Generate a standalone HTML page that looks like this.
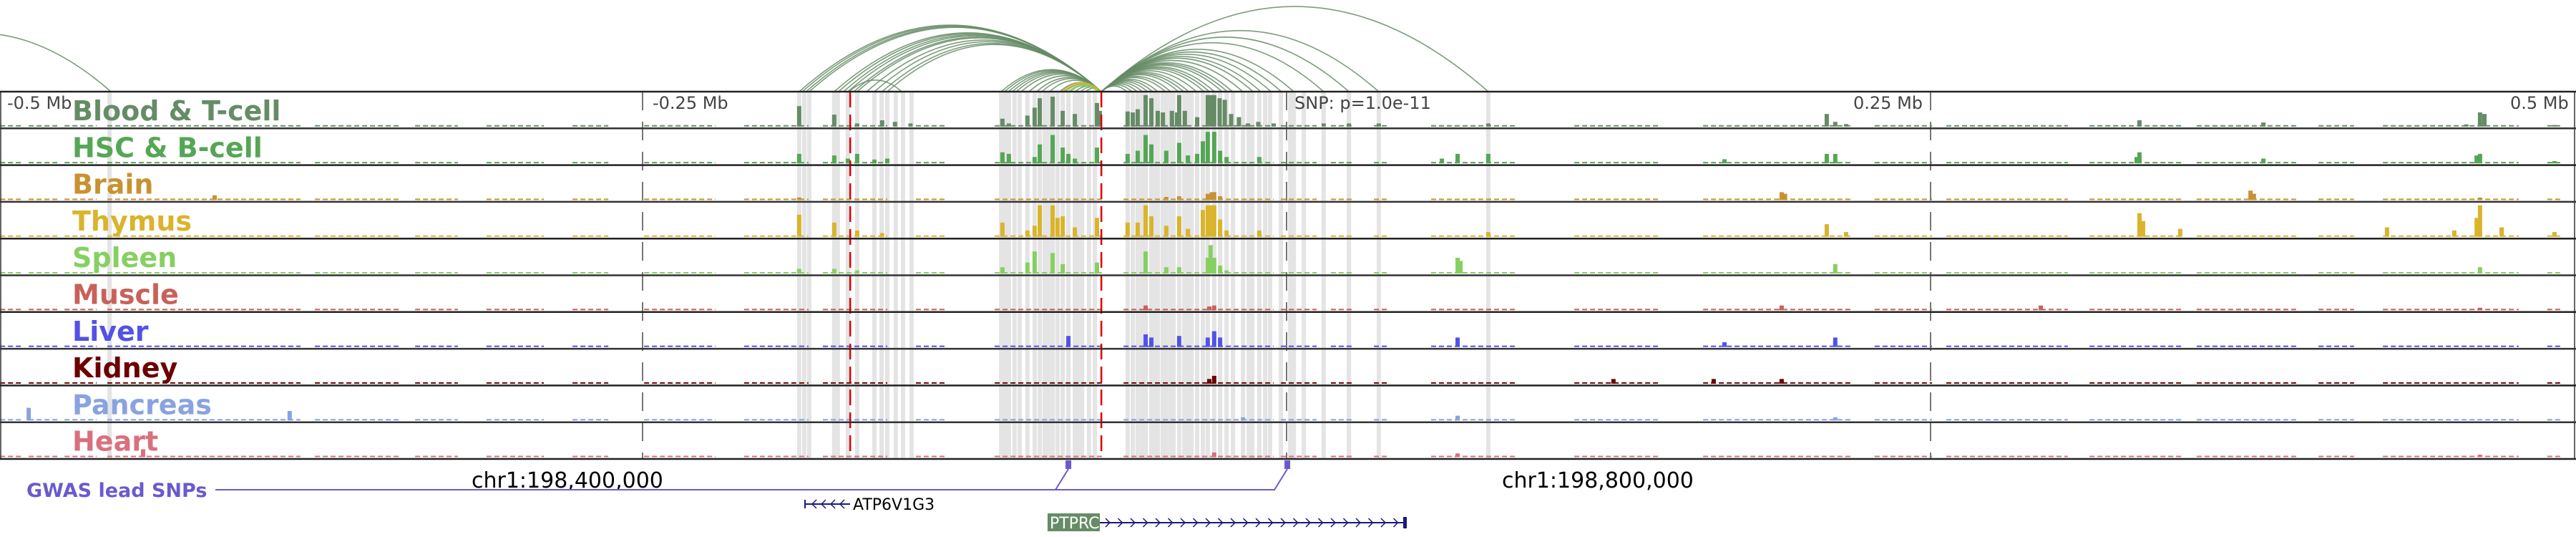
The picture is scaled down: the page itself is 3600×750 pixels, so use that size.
<!DOCTYPE html>
<html><head><meta charset="utf-8">
<style>
html,body{margin:0;padding:0;background:#fff;}
svg{display:block;}
text{font-family:"DejaVu Sans","Liberation Sans",sans-serif;}
</style></head>
<body>
<svg id="chart" width="3600" height="750" viewBox="0 0 3600 750" xmlns="http://www.w3.org/2000/svg">
<g id="bands"></g>
<g id="arcs"></g>
<g id="bars"></g>
<g id="guides"></g>
<g id="frame"></g>
<g id="labels"></g>
<g id="bottom">
  <text x="37" y="694" font-size="27" font-weight="bold" fill="#6a5acd">GWAS lead SNPs</text>
  <text x="659" y="681" font-size="30" fill="#000">chr1:198,400,000</text>
  <text x="2099" y="681" font-size="30" fill="#000">chr1:198,800,000</text>
</g>
</svg>
<script>
const NS="http://www.w3.org/2000/svg";
// ---- data ----
const trackNames=["Blood & T-cell","HSC & B-cell","Brain","Thymus","Spleen","Muscle","Liver","Kidney","Pancreas","Heart"];
const trackColors=["#668c66","#55a655","#c89232","#d9b42c","#86d062","#c8615a","#5252e8","#6b0000","#89a3e0","#d9707f"];
const tickKb=[-500,-250,0,250,500];
const tickLabels=["-0.5 Mb","-0.25 Mb","SNP: p=1.0e-11","0.25 Mb","0.5 Mb"];
const redLinesKb=[-169.4,-71.9];
const snpKb=[-84.7,0.3];
const arcAnchorKb=-71.9;
const arcEndsKb=[-189.2,-188,-186.5,-185.3,-175.6,-174,-172,-170.3,-168,-166.7,-163,-160,-157,-155,
 -110.8,-109.5,-108,-106.5,-105,-103,-100,-97,-95,-92,-88,-86,-84,-82,-80,-78,
 -62,-60,-58,-56,-54,-52,-50,-47,-45,-42,-40,-38,-35,-32,-30,-28,-25,-23,-21,-17,-13,-10,-6,-2,2.8,14.4,24.2,35.8,78.3];
const extraArcs=[[-560,-456.4,"#668c66"],[-169.8,-149.4,"#668c66"],[-86.9,-72,"#d9b42c"],[-84.5,-73,"#86d062"]];
const bandKb=[-456.9,-189.2,-187.2,-185.3,-175.6,-174.2,-170.3,-166.7,-160,-157.2,-155,-151.7,-148.9,-145.6,
 -110.8,-109.2,-107.8,-105.6,-103.6,-100.6,-97.8,-95.8,-93.9,-92.5,-90.8,-88.9,-86.9,-84.7,-82.2,-80.6,-79.4,-76.7,-74.4,
 -61.7,-59.7,-57.8,-56.1,-54.7,-52.5,-51.1,-50,-48.1,-46.7,-45,-43.9,-41.7,-39.7,-38.3,-36.9,-34.7,-32.5,-30.6,-28.1,-25.8,-23.3,-20.8,
 -16.9,-14.7,-13.3,-10.6,-8.3,-6.4,-2.2,1.4,2.8,6.7,14.4,24.2,35.8,78.3];
const lowRuns=[[-499.4,-491.1],[-488.3,-477.2],[-474.4,-461.9],[-457.8,-382.8],[-377.2,-343.9],[-338.3,-321.7],[-310.6,-288.3],[-277.2,-263.3],
 [-249.4,-221.7],[-210.6,-185.6],[-180,-155],[-143.9,-132.8],[-113.3,-71.7],[-63.3,-5],[-2.2,11.7],[17.2,25.6],[33.9,39.4],[56.1,89.4],
 [111.7,145],[161.7,189.4],[189.4,219.4],[228.3,250.6],[256.1,303.3],[311.7,347.8],[353.3,392.2],[400.6,414.4],[425.6,478.3],[489.4,495]];
const peaksBlood=[[-189.2,.65],[-175.6,.38],[-166.7,.1],[-157,.2],[-152,.15],[-146,.1],[-110.3,.25],[-107.8,.1],[-100.6,.35],[-97.8,.6],[-95.8,.9],[-90.8,.95],[-86.9,.5],[-82.2,.4],[-73.6,.75],[-72.5,.5],
 [-61.7,.48],[-59.7,.45],[-57.8,.55],[-54.7,1],[-52.5,.9],[-50,.5],[-48,.45],[-44.5,.5],[-42.5,.45],[-41.7,1],[-39.5,.5],[-34.7,.3],[-30.6,1],[-29,1],[-28.1,1],[-26,.9],[-24,.85],[-21.5,.4],[-18.5,.3],[-15,.1],[-11,.15],[-5,.1],[14.4,.1],[24.2,.1],[35.8,.1],[78.3,.1],
 [209.7,.4],[213,.15],[217.2,.08],[331.1,.2],[379.2,.13],[458,.07],[463.3,.45],[465,.4],[492.2,.05]];
const peaksHsc=[[-189.2,.3],[-175.6,.25],[-170.3,.15],[-166.7,.3],[-160,.12],[-155,.15],[-110.3,.35],[-107.8,.3],[-97.8,.2],[-95.8,.6],[-90.8,.9],[-86.9,.5],[-84.7,.3],[-82.2,.15],[-73.6,.5],
 [-61.7,.3],[-57.8,.4],[-54.7,.9],[-52.5,.6],[-46.7,.4],[-41.7,.65],[-38.3,.25],[-34.7,.3],[-32.5,.7],[-30.6,1],[-28.1,1],[-25.8,.4],[-23.3,.2],[-10.6,.2],
 [60.3,.15],[66.4,.3],[78.3,.3],[170,.13],[209.7,.3],[213,.3],[330,.2],[331.1,.35],[379.2,.15],[462,.25],[463.3,.3],[492.2,.07]];
const peaksBrain=[[-416.1,.15],[-189.2,.08],[-46.7,.1],[-41.7,.12],[-30.6,.2],[-29,.25],[-28.1,.25],[-25.8,.12],[192.2,.25],[193.5,.2],[374.2,.3],[375.5,.2],[463.3,.08]];
const peaksThymus=[[-189.2,.7],[-175.6,.45],[-166.7,.2],[-157,.12],[-110.3,.45],[-100.6,.2],[-97.8,.35],[-95.8,1],[-90.8,1],[-88.9,.6],[-86.9,.65],[-82.2,.3],[-73.6,.6],
 [-61.7,.45],[-57.8,.45],[-54.7,1],[-52.5,.65],[-46.7,.35],[-41.7,.65],[-38.3,.25],[-32.5,.85],[-30.6,1],[-29,1],[-28.1,1],[-25.8,.55],[-23.3,.2],[-10.6,.2],
 [78.3,.15],[209.7,.4],[217.2,.15],[331.1,.75],[332.5,.5],[346.9,.25],[427.2,.3],[453.3,.2],[462,.6],[463.3,1],[471.7,.3],[492.2,.15]];
const peaksSpleen=[[-189.2,.15],[-175.6,.15],[-166.7,.1],[-110.3,.2],[-100.6,.35],[-97.8,.7],[-90.8,.65],[-86.9,.3],[-73.6,.35],[-54.7,.7],[-46.7,.2],[-41.7,.2],[-30.6,.5],[-29.5,.9],[-28.1,.5],[-25.8,.25],[-23.3,.1],
 [66.4,.5],[67.5,.4],[213,.3],[463.3,.2]];
const peaksMuscle=[[-54.7,.15],[-28.1,.15],[-30,.12],[192.2,.15],[292.8,.15],[463.3,.08]];
const peaksLiver=[[-84.7,.35],[-54.7,.4],[-52.5,.3],[-41.7,.35],[-30.6,.3],[-28.1,.5],[-25.8,.3],[66.4,.3],[213,.3],[170,.15]];
const peaksKidney=[[-28.1,.25],[-30,.15],[192.2,.15],[165.8,.15],[126.9,.15]];
const peaksPancreas=[[-488.3,.4],[-387,.3],[-16.9,.1],[66.4,.15],[213,.1]];
const peaksHeart=[[-443.9,.25],[-28.1,.15],[66.4,.12],[463.3,.08]];
const allPeaks=[peaksBlood,peaksHsc,peaksBrain,peaksThymus,peaksSpleen,peaksMuscle,peaksLiver,peaksKidney,peaksPancreas,peaksHeart];
// ---- scales ----
const X0=1798,PX_PER_KB=3.6,TOP=128,TH=51.3,MAXH=44;
function xs(kb){return X0+kb*PX_PER_KB;}
function trackTop(i){return TOP+i*TH;}
function ys(i,v){return trackTop(i)+TH-2.5-v*MAXH;}
function mk(tag,attrs,parent){const e=document.createElementNS(NS,tag);for(const k in attrs)e.setAttribute(k,attrs[k]);parent.appendChild(e);return e;}
const gB=document.getElementById('bands'),gA=document.getElementById('arcs'),gBar=document.getElementById('bars'),gG=document.getElementById('guides'),gF=document.getElementById('frame'),gL=document.getElementById('labels'),gBot=document.getElementById('bottom');
const bottomY=TOP+10*TH;
// bands
bandKb.forEach(k=>{
 const r=mk('rect',{x:xs(k)-3,y:TOP,width:6,height:bottomY-TOP,fill:'#e4e4e4'},gB);
 
 
});
// arcs
function arc(a,b,color,w){
 const x1=xs(a),x2=xs(b),h=0.22*Math.abs(x2-x1);
 const p=mk('path',{d:`M${x1},${TOP} Q${(x1+x2)/2},${TOP-2*h} ${x2},${TOP}`,fill:'none',stroke:color,'stroke-width':w,'stroke-opacity':0.85},gA);
 
 
}
arcEndsKb.forEach(e=>arc(arcAnchorKb,e,'#668c66',1.6));
extraArcs.forEach(a=>arc(a[0],a[1],a[2],a[2]==='#668c66'?1.6:3));
// bars
for(let i=0;i<10;i++){
 const base=trackTop(i)+TH-2.5;
 lowRuns.forEach(r=>{
  const e=mk('line',{x1:xs(r[0]),y1:base-1,x2:xs(r[1]),y2:base-1,stroke:trackColors[i],'stroke-width':2,'stroke-dasharray':'7,4'},gBar);
  
  
 });
 allPeaks[i].forEach(p=>{
  const y=ys(i,p[1]);
  const e=mk('rect',{x:xs(p[0])-3,y:y,width:6,height:base-y,fill:trackColors[i]},gBar);
  
  
 });
}
// guides
tickKb.slice(1,4).forEach(k=>{
 const l=mk('line',{x1:xs(k),x2:xs(k),y1:TOP,y2:bottomY,stroke:'#777','stroke-width':2,'stroke-dasharray':'26,16'},gG);
 
 
});
redLinesKb.forEach(k=>{
 const l=mk('line',{x1:xs(k),x2:xs(k),y1:TOP,y2:bottomY,stroke:'#e00000','stroke-width':2.5,'stroke-dasharray':'22,10'},gG);
 
 
});
// frame
mk('rect',{x:1,y:TOP,width:3597,height:bottomY-TOP,fill:'none',stroke:'#333','stroke-width':1.5},gF);
for(let i=0;i<=10;i++){
 const y=trackTop(i);
 const l=mk('line',{x1:0,x2:3600,y1:y,y2:y,stroke:i%2?'#333':'#222','stroke-width':2.5},gF);
 
 
}
// tick labels
const tickX=[10,912,1809,2590,3508];
tickLabels.forEach((t,j)=>{
 const e=mk('text',{x:tickX[j],y:152,'font-size':24,fill:'#444'},gL);
 e.textContent=t;
 
 
});
// track labels
trackNames.forEach((n,i)=>{
 const e=mk('text',{x:101,y:trackTop(i)+40,'font-size':38,'font-weight':'bold',fill:trackColors[i]},gL);
 e.textContent=n;
 
 
});
// GWAS SNP markers and connectors
const lineY=684;
mk('polyline',{points:`301,${lineY} ${xs(snpKb[1])-18},${lineY} ${xs(snpKb[1])},655`,fill:'none',stroke:'#6a5acd','stroke-width':2},gBot);
mk('line',{x1:xs(snpKb[0])-18,y1:lineY,x2:xs(snpKb[0]),y2:655,stroke:'#6a5acd','stroke-width':2},gBot);
snpKb.forEach(k=>{
 const r=mk('rect',{x:xs(k)-4,y:643,width:8,height:12,fill:'#6a5acd'},gBot);
 
 
});
// genes
const ga=mk('g',{},gBot);


mk('line',{x1:1125,x2:1188,y1:704,y2:704,stroke:'#1a1a7a','stroke-width':2},ga);
mk('line',{x1:1125,x2:1125,y1:698,y2:710,stroke:'#1a1a7a','stroke-width':2},ga);
[1135,1148,1161,1174].forEach(x=>mk('polyline',{points:`${x+6},698 ${x},704 ${x+6},710`,fill:'none',stroke:'#1a1a7a','stroke-width':1.5},ga));
const ta=mk('text',{x:1192,y:712,'font-size':22,fill:'#000'},ga);ta.textContent='ATP6V1G3';
const gp=mk('g',{},gBot);


mk('rect',{x:1464,y:717,width:73,height:25,fill:'#668c66'},gp);
const tp=mk('text',{x:1467,y:738,'font-size':22,fill:'#fff'},gp);tp.textContent='PTPRC';
mk('line',{x1:1537,x2:1963,y1:730,y2:730,stroke:'#1a1a7a','stroke-width':2},gp);
for(let x=1545;x<1955;x+=17.5)mk('polyline',{points:`${x},724 ${x+6},730 ${x},736`,fill:'none',stroke:'#1a1a7a','stroke-width':1.5},gp);
mk('rect',{x:1961,y:722,width:5,height:16,fill:'#1a1a7a'},gp);
</script>
</body></html>
